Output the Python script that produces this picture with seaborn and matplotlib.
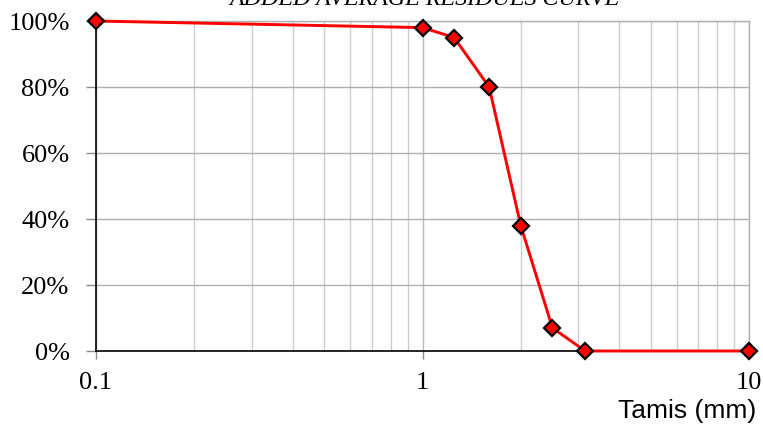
import numpy as np
import pandas as pd
import matplotlib
matplotlib.use("Agg")
import matplotlib.pyplot as plt
import matplotlib.ticker as mticker
import seaborn as sns

# sieve sizes (mm) and cumulative residue (%)
tamis = [0.1, 1.0, 1.25, 1.6, 2.0, 2.5, 3.15, 10.0]
residus = [100, 98, 95, 80, 38, 7, 0, 0]
y_ticks = [0, 20, 40, 60, 80, 100]
x_ticks = [0.1, 1, 10]
x_labels = ["0.1", "1", "10"]

df = pd.DataFrame({"Tamis": tamis, "Residus": residus})

sns.set_style("white")
plt.rcParams['font.family'] = ['Liberation Serif', 'DejaVu Serif']
plt.rcParams['text.color'] = 'black'
plt.rcParams['xtick.labelcolor'] = 'black'
plt.rcParams['ytick.labelcolor'] = 'black'

fig = plt.figure(figsize=(7.63, 4.25), dpi=100)
ax = fig.add_axes([96 / 763, 1 - 351 / 425, (749 - 96) / 763, (351 - 21) / 425])

ax.set_xscale("log")
ax.set_xlim(0.1, 10)
ax.set_ylim(0, 100)

# grid: light vertical minor lines, grey horizontal lines
ax.xaxis.set_minor_locator(mticker.LogLocator(base=10, subs=np.arange(2, 10)))
ax.grid(which="minor", axis="x", color="#cccccc", lw=1)
ax.grid(which="major", axis="x", color="#b8b8b8", lw=1)
ax.grid(which="major", axis="y", color="#b0b0b0", lw=1)
ax.set_axisbelow(True)

sns.lineplot(data=df, x="Tamis", y="Residus", sort=False, ax=ax,
             color="#ff0000", lw=2.1, marker="D", markersize=8.5,
             markerfacecolor="#ff0000", markeredgecolor="black",
             markeredgewidth=1.6, zorder=5, clip_on=False)

ax.set_xticks(x_ticks)
ax.set_xticklabels(x_labels)
ax.xaxis.set_minor_formatter(mticker.NullFormatter())
ax.set_yticks(y_ticks)
ax.set_yticklabels([f"{v}%" for v in y_ticks])

ax.tick_params(axis="x", which="major", direction="out", length=6, width=1,
               color="#888888", labelcolor="black", labelsize=19, pad=9, bottom=True)
ax.tick_params(axis="x", which="minor", length=0)
ax.tick_params(axis="y", direction="out", length=7, width=1,
               color="#888888", labelcolor="black", labelsize=19, pad=12, left=True)

for side in ["top", "right"]:
    ax.spines[side].set_color("#b0b0b0")
    ax.spines[side].set_linewidth(1)
for side in ["left", "bottom"]:
    ax.spines[side].set_color("black")
    ax.spines[side].set_linewidth(1.2)

ax.set_xlabel("")
ax.set_ylabel("")

fig.text(424 / 763, 1 - 5 / 425, "ADDED AVERAGE RESIDUES CURVE",
         ha="center", va="baseline", fontsize=17.3, style="italic",
         family="Liberation Serif", color="black")
fig.text(756 / 763, 1 - 418 / 425, "Tamis (mm)", ha="right", va="baseline",
         fontsize=19, family="Liberation Sans", color="black")

fig.savefig("out.png", dpi=100)
